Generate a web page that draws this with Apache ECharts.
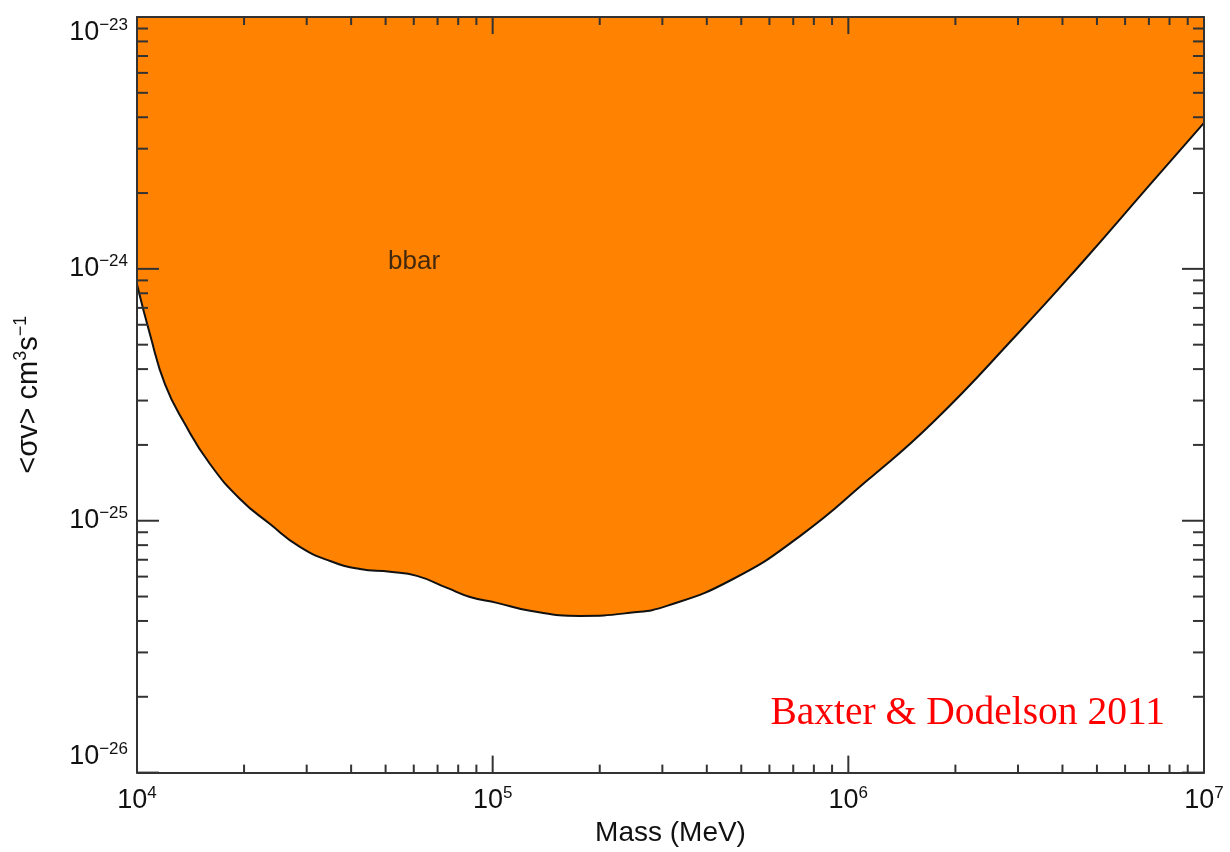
<!DOCTYPE html>
<html>
<head>
<meta charset="utf-8">
<script src="https://cdn.jsdelivr.net/npm/echarts@6/dist/echarts.min.js"></script>
<style>html,body{margin:0;padding:0;background:#fff}#c{width:1230px;height:852px}</style>
</head>
<body>
<div id="c"></div>
<script>
// Data (mass in MeV, <sigma v> in cm^3 s^-1)
const massValues = [1.0e4, 1.088e4, 1.199e4, 1.364e4, 1.604e4, 1.948e4, 2.366e4, 2.871e4, 3.491e4, 4.236e4, 5.144e4, 6.124e4, 7.447e4, 8.636e4, 1.028e5, 1.274e5, 1.762e5, 2.432e5, 3.090e5, 4.742e5, 7.311e5, 1.127e6, 1.730e6, 2.979e6, 4.571e6, 7.047e6, 1.0e7];
const sigmaValues = [8.67e-25, 5.49e-25, 3.48e-25, 2.42e-25, 1.68e-25, 1.22e-25, 9.70e-26, 7.87e-26, 6.92e-26, 6.43e-26, 6.27e-26, 6.04e-26, 5.41e-26, 4.98e-26, 4.72e-26, 4.39e-26, 4.19e-26, 4.31e-26, 4.59e-26, 5.87e-26, 8.69e-26, 1.44e-25, 2.46e-25, 5.49e-25, 1.07e-24, 2.16e-24, 3.80e-24];

const xMajorTicks = [1e4, 1e5, 1e6, 1e7];
const yMajorTicks = [1e-26, 1e-25, 1e-24, 1e-23];
const minorMultipliers = [2, 3, 4, 5, 6, 7, 8, 9];

const regionLabel = 'bbar';
const regionLabelPos = [5.08e4, 1.07e-24];
const creditText = 'Baxter & Dodelson 2011';

// ECharts rounds very small numbers, so the y axis works in units of 1e-26
const Y_UNIT_EXP = -26;
const Y_UNIT = 1e-26;
const toY = v => v / Y_UNIT;

const FONT = '"Liberation Sans", Arial, Helvetica, sans-serif';

function ticksFor(majors) {
  const out = [];
  majors.forEach((m, i) => {
    out.push([m, 1]);
    if (i < majors.length - 1) minorMultipliers.forEach(k => out.push([m * k, 0]));
  });
  return out;
}
const xTicks = ticksFor(xMajorTicks).map(t => [t[0], 1, t[1]]);
const yTicks = ticksFor(yMajorTicks).map(t => [1e4, toY(t[0]), t[1]]);

function expStr(e) { return String(e).replace('-', '\u2212'); }
function xLabel(v) { return '{a|10}{b|' + expStr(Math.round(Math.log10(v))) + '}'; }
function yLabel(v) { return '{a|10}{b|' + expStr(Math.round(Math.log10(v)) + Y_UNIT_EXP) + '}'; }
const richLabel = {
  a: { fontSize: 27, fontFamily: FONT, color: '#111', lineHeight: 32 },
  b: { fontSize: 17, fontFamily: FONT, color: '#111', verticalAlign: 'top', lineHeight: 18 }
};

const chart = echarts.init(document.getElementById('c'), null, { renderer: 'canvas' });
const axisLineStyle = { show: true, lineStyle: { color: '#333', width: 2 } };
const yMin = toY(yMajorTicks[0]), yMax = toY(yMajorTicks[yMajorTicks.length - 1]);

chart.setOption({
  animation: false,
  backgroundColor: '#fff',
  grid: { left: 137, right: 26, top: 17, bottom: 78 },
  xAxis: [
    {
      type: 'log', logBase: 10, min: 1e4, max: 1e7, splitNumber: 3, position: 'bottom', z: 10,
      axisLine: axisLineStyle, axisTick: { show: false }, splitLine: { show: false },
      axisLabel: { margin: 12, formatter: xLabel, rich: richLabel },
      name: 'Mass (MeV)', nameLocation: 'middle', nameGap: 45,
      nameTextStyle: { fontSize: 28, fontFamily: FONT, color: '#111' }
    },
    {
      type: 'log', logBase: 10, min: 1e4, max: 1e7, splitNumber: 3, position: 'top', z: 10,
      axisLine: axisLineStyle, axisTick: { show: false }, splitLine: { show: false },
      axisLabel: { show: false }
    }
  ],
  yAxis: [
    {
      type: 'log', logBase: 10, min: yMin, max: yMax, splitNumber: 3, position: 'left', z: 10,
      axisLine: axisLineStyle, axisTick: { show: false }, splitLine: { show: false },
      axisLabel: { margin: 9, formatter: yLabel, rich: richLabel,
        verticalAlignMinLabel: 'bottom', verticalAlignMaxLabel: 'top' },
      name: '{a|<σv> cm}{b|3}{a|s}{b|\u22121}', nameLocation: 'middle', nameGap: 92, nameRotate: 90,
      nameTextStyle: {
        rich: {
          a: { fontSize: 29, fontFamily: FONT, color: '#111', lineHeight: 33 },
          b: { fontSize: 18, fontFamily: FONT, color: '#111', verticalAlign: 'top', lineHeight: 18 }
        }
      }
    },
    {
      type: 'log', logBase: 10, min: yMin, max: yMax, splitNumber: 3, position: 'right', z: 10,
      axisLine: axisLineStyle, axisTick: { show: false }, splitLine: { show: false },
      axisLabel: { show: false }
    }
  ],
  series: [
    {
      type: 'line',
      data: massValues.map((m, i) => [m, toY(sigmaValues[i])]),
      smooth: 0.5,
      showSymbol: false,
      z: 2,
      lineStyle: { color: '#111', width: 2 },
      areaStyle: { origin: 'end', color: '#ff8200', opacity: 1 }
    },
    {
      type: 'scatter',
      data: [[regionLabelPos[0], toY(regionLabelPos[1])]],
      symbolSize: 0,
      z: 6,
      label: { show: true, position: 'right', distance: 0, formatter: regionLabel,
        fontSize: 26, fontFamily: FONT, color: '#111' }
    },
    {
      type: 'custom',
      data: xTicks,
      z: 8,
      renderItem: function (params, api) {
        const cs = params.coordSys;
        const px = api.coord([api.value(0), api.value(1)])[0];
        const len = api.value(2) ? 17 : 8;
        const yb = cs.y + cs.height, yt = cs.y;
        const st = { stroke: '#333', lineWidth: 2 };
        return { type: 'group', children: [
          { type: 'line', shape: { x1: px, y1: yb, x2: px, y2: yb - len }, style: st },
          { type: 'line', shape: { x1: px, y1: yt, x2: px, y2: yt + len }, style: st }
        ] };
      }
    },
    {
      type: 'custom',
      data: yTicks,
      z: 8,
      renderItem: function (params, api) {
        const cs = params.coordSys;
        const py = api.coord([api.value(0), api.value(1)])[1];
        const len = api.value(2) ? 22 : 11;
        const xl = cs.x, xr = cs.x + cs.width;
        const st = { stroke: '#333', lineWidth: 2 };
        return { type: 'group', children: [
          { type: 'line', shape: { x1: xl, y1: py, x2: xl + len, y2: py }, style: st },
          { type: 'line', shape: { x1: xr, y1: py, x2: xr - len, y2: py }, style: st }
        ] };
      }
    }
  ],
  graphic: [
    {
      type: 'text', right: 65, top: 694, z: 20,
      style: { text: creditText, fill: '#ff0000', font: '39.5px "Liberation Serif", "Times New Roman", serif' }
    }
  ]
});
</script>
</body>
</html>
